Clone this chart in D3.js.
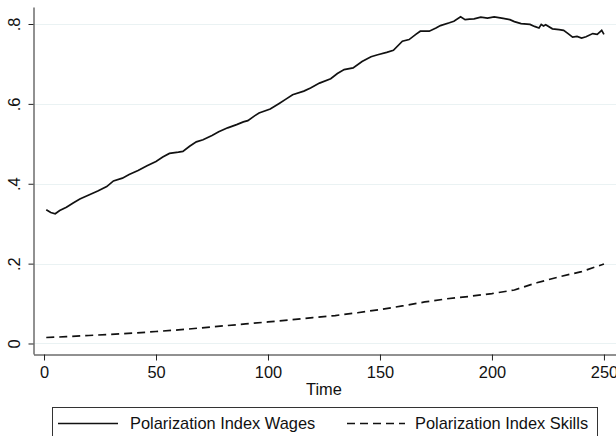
<!DOCTYPE html>
<html>
<head>
<meta charset="utf-8">
<script src="https://cdn.jsdelivr.net/npm/d3@7"></script>
<style>
	body { margin: 0; background: #fff; }
	svg { display: block; font-family: "Liberation Sans", Arial, sans-serif; }
	.grid line { stroke: #eaf2f3; stroke-width: 1.2; }
	.axis path, .axis line { stroke: #222; stroke-width: 1; }
	.axis text { fill: #111; font-size: 16.4px; }
</style>
</head>
<body>
<div id="chart"></div>
<script>
// wages series (time, value)
const wageTime = [1, 3, 5, 7, 10, 13, 16, 20, 24, 28, 31, 35, 38, 42, 46, 50, 53, 56, 60, 62,
	65, 68, 71, 75, 78, 82, 86, 89, 91, 94, 96, 101, 105, 108, 111, 116, 119, 123, 128, 131,
	134, 138, 142, 146, 149, 153, 156, 160, 163, 166, 168, 172, 175, 177, 181, 183, 186, 188, 190, 192,
	195, 198, 201, 203, 205, 208, 210, 213, 217, 219, 221, 222, 223, 224, 227, 230, 232, 234, 236, 238,
	240, 242, 245, 247, 249, 250];
const wageValues = [0.335, 0.328, 0.325, 0.333, 0.341, 0.352, 0.362, 0.372, 0.382, 0.393, 0.407, 0.414, 0.423, 0.433, 0.445, 0.456, 0.467, 0.476, 0.479, 0.481,
	0.494, 0.505, 0.510, 0.521, 0.530, 0.540, 0.548, 0.555, 0.558, 0.570, 0.577, 0.587, 0.601, 0.612, 0.623, 0.632, 0.640, 0.652, 0.663, 0.676,
	0.686, 0.690, 0.706, 0.718, 0.723, 0.729, 0.734, 0.757, 0.761, 0.774, 0.782, 0.782, 0.790, 0.796, 0.803, 0.807, 0.818, 0.811, 0.812, 0.813,
	0.817, 0.815, 0.818, 0.816, 0.814, 0.811, 0.806, 0.801, 0.799, 0.794, 0.790, 0.799, 0.795, 0.798, 0.788, 0.786, 0.784, 0.776, 0.767, 0.769,
	0.765, 0.768, 0.776, 0.774, 0.784, 0.774];

// skills series
const skillTime = [1, 10, 20, 30, 40, 50, 60, 70, 80, 90, 100, 110, 120, 130, 140, 150, 160, 170, 180, 190, 200, 210, 220, 230, 240, 250];
const skillValues = [0.015, 0.017, 0.020, 0.023, 0.026, 0.030, 0.034, 0.039, 0.044, 0.049, 0.054, 0.059, 0.065, 0.070, 0.077, 0.085, 0.094, 0.104, 0.112, 0.118, 0.125, 0.134, 0.152, 0.167, 0.180, 0.199];

const xTicks = [0, 50, 100, 150, 200, 250];
const yTicks = [0, 0.2, 0.4, 0.6, 0.8];
const yTickLabels = ['0', '.2', '.4', '.6', '.8'];
const seriesNames = ['Polarization Index Wages', 'Polarization Index Skills'];

const W = 616, H = 436;

const svg = d3.select('#chart').append('svg')
	.attr('width', W)
	.attr('height', H);

// scales (plot region is a bit wider than the data, like stata)
const x = d3.scaleLinear().domain([-4.7, 256.5]).range([33.5, 618.5]);
const y = d3.scaleLinear().domain([-0.0263, 0.8426]).range([354, 7]);

// grid
svg.append('g')
	.classed('grid', true)
	.selectAll('line')
	.data(yTicks)
	.enter()
	.append('line')
	.attr('x1', x.range()[0] + 1)
	.attr('x2', W)
	.attr('y1', d => Math.round(y(d)) + 0.5)
	.attr('y2', d => Math.round(y(d)) + 0.5);

// x axis
const xAxis = d3.axisBottom(x).tickValues(xTicks).tickSize(6).tickSizeOuter(0).tickPadding(6);
svg.append('g')
	.classed('axis', true)
	.attr('transform', 'translate(0,' + (y.range()[0] + 0.5) + ')')
	.call(xAxis);

// y axis, labels rotated
const yAxis = d3.axisLeft(y).tickValues(yTicks).tickSize(5).tickSizeOuter(0).tickPadding(6)
	.tickFormat((d, i) => yTickLabels[i]);
const yG = svg.append('g')
	.classed('axis', true)
	.attr('transform', 'translate(' + (x.range()[0]) + ',0)')
	.call(yAxis);
yG.selectAll('.tick text')
	.attr('x', null)
	.attr('dy', null)
	.attr('text-anchor', 'middle')
	.attr('transform', 'translate(-14,0) rotate(-90)');

// axis title
svg.append('text')
	.attr('x', x(125))
	.attr('y', 395)
	.attr('text-anchor', 'middle')
	.style('font-size', '16.4px')
	.attr('fill', '#111')
	.text('Time');

// lines
const wageData = wageTime.map((t, i) => ({ t: t, v: wageValues[i] }));
const skillData = skillTime.map((t, i) => ({ t: t, v: skillValues[i] }));

const line = d3.line()
	.curve(d3.curveLinear)
	.x(d => x(d.t))
	.y(d => y(d.v));

svg.append('path')
	.datum(wageData)
	.attr('d', line)
	.attr('fill', 'none')
	.attr('stroke', '#111')
	.attr('stroke-width', 1.7);

svg.append('path')
	.datum(skillData)
	.attr('d', line)
	.attr('fill', 'none')
	.attr('stroke', '#111')
	.attr('stroke-width', 1.7)
	.attr('stroke-dasharray', '8,5');

// legend
const lg = svg.append('g').classed('legend', true);
lg.append('rect')
	.attr('x', 52.5)
	.attr('y', 407.5)
	.attr('width', 545)
	.attr('height', 40)
	.attr('fill', '#fff')
	.attr('stroke', '#333')
	.attr('stroke-width', 1);

const legendItems = [
	{ name: seriesNames[0], x0: 58, x1: 118, tx: 130, dash: null },
	{ name: seriesNames[1], x0: 347, x1: 405, tx: 415, dash: '8,5' }
];
legendItems.forEach(item => {
	lg.append('line')
		.attr('x1', item.x0).attr('x2', item.x1)
		.attr('y1', 423.5).attr('y2', 423.5)
		.attr('stroke', '#111')
		.attr('stroke-width', 1.7)
		.attr('stroke-dasharray', item.dash);
	lg.append('text')
		.attr('x', item.tx)
		.attr('y', 429)
		.style('font-size', '16.4px')
		.attr('fill', '#111')
		.text(item.name);
});
</script>
</body>
</html>
